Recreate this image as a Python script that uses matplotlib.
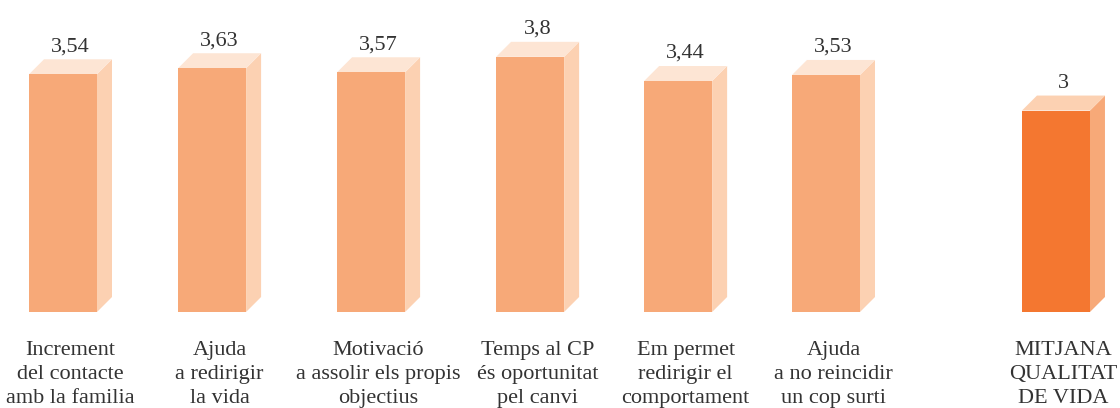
import matplotlib.pyplot as plt
from matplotlib.patches import Polygon

plt.rcParams['font.family'] = 'serif'
plt.rcParams['font.serif'] = ['Liberation Serif', 'Times New Roman', 'DejaVu Serif']

# Chart data
labels = [
    "Increment\ndel contacte\namb la familia",
    "Ajuda\na redirigir\nla vida",
    "Motivació\na assolir els propis\nobjectius",
    "Temps al CP\nés oportunitat\npel canvi",
    "Em permet\nredirigir el\ncomportament",
    "Ajuda\na no reincidir\nun cop surti",
    "MITJANA\nQUALITAT\nDE VIDA",
]
values = [3.54, 3.63, 3.57, 3.8, 3.44, 3.53, 3.0]
value_text = ["3,54", "3,63", "3,57", "3,8", "3,44", "3,53", "3"]

# Layout (slot positions of each bar)
slots = [0, 0.977, 2.019, 3.061, 4.031, 5.0, 6.507]
slot_px = 152.6
x0 = 29
bar_w = 68
depth = 15
px_per_unit = 67.15
base_px = 312
W, H = 1120, 408

light = dict(front="#F7A978", side="#FCD1B2", top="#FDE5D4")
dark = dict(front="#F47730", side="#F7A978", top="#FCD1B2")

fig = plt.figure(figsize=(W / 100, H / 100), dpi=100)
ax = fig.add_axes([0, 0, 1, 1])
ax.set_xlim(0, W)
ax.set_ylim(-(H - base_px) / px_per_unit, base_px / px_per_unit)
ax.axis("off")

dy = depth / px_per_unit
xs = [x0 + s * slot_px for s in slots]

for i, (x, v) in enumerate(zip(xs, values)):
    c = dark if i == len(values) - 1 else light
    ax.bar(x, v, width=bar_w, align="edge", color=c["front"], linewidth=0, zorder=3)
    side = [(x + bar_w, 0), (x + bar_w + depth, dy), (x + bar_w + depth, v + dy), (x + bar_w, v)]
    top = [(x, v), (x + depth, v + dy), (x + bar_w + depth, v + dy), (x + bar_w, v)]
    ax.add_patch(Polygon(side, closed=True, color=c["side"], linewidth=0, zorder=2))
    ax.add_patch(Polygon(top, closed=True, color=c["top"], linewidth=0, zorder=2))
    cx = x + (bar_w + depth) / 2
    ax.text(cx, v + dy + 8 / px_per_unit, value_text[i], ha="center", va="baseline",
            fontsize=16, color="#333333")
    ax.text(cx, -(341 - base_px) / px_per_unit, labels[i], ha="center", va="top",
            fontsize=16, color="#333333", linespacing=1.36)

fig.savefig("out.png", dpi=100)
